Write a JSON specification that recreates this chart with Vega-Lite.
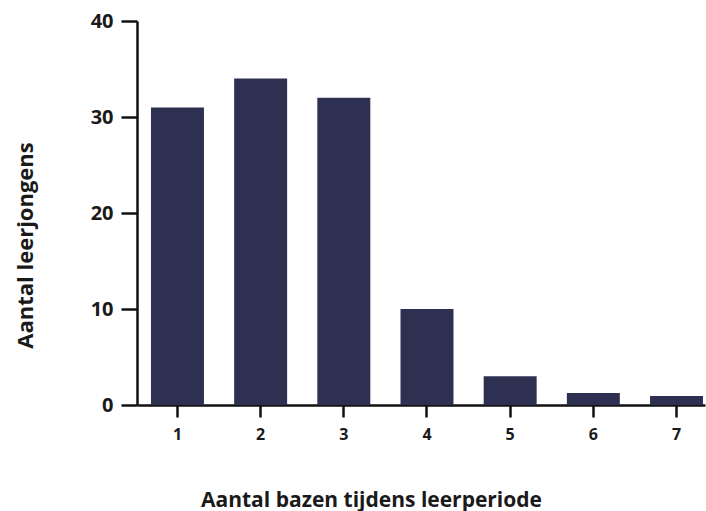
{
  "$schema": "https://vega.github.io/schema/vega-lite/v6.json",
  "autosize": "none",
  "width": 568,
  "height": 384,
  "padding": {"left": 137, "top": 21, "right": 1, "bottom": 106},
  "background": "white",
  "data": {"values": [
    {"bazen": "1", "leerjongens": 31},
    {"bazen": "2", "leerjongens": 34},
    {"bazen": "3", "leerjongens": 32},
    {"bazen": "4", "leerjongens": 10},
    {"bazen": "5", "leerjongens": 3},
    {"bazen": "6", "leerjongens": 1.25},
    {"bazen": "7", "leerjongens": 0.95}
  ]},
  "mark": {"type": "bar", "color": "#2d3050"},
  "encoding": {
    "x": {
      "field": "bazen", "type": "ordinal",
      "scale": {"paddingInner": 0.363, "paddingOuter": 0.096, "align": 0.875},
      "axis": {
        "title": "Aantal bazen tijdens leerperiode",
        "titleFont": "Open Sans", "titleFontSize": 21, "titleFontWeight": "bold", "titleColor": "#1a1a1a",
        "titleX": 234, "titleY": 101, "titleBaseline": "alphabetic", "titleAnchor": "middle",
        "labelAngle": 0, "labelFont": "Open Sans", "labelFontSize": 16, "labelFontWeight": "bold", "labelColor": "#1a1a1a",
        "labelPadding": 9,
        "domainColor": "#111111", "domainWidth": 2.5,
        "tickColor": "#111111", "tickWidth": 2.5, "tickSize": 12
      }
    },
    "y": {
      "field": "leerjongens", "type": "quantitative",
      "scale": {"domain": [0, 40], "nice": false},
      "axis": {
        "values": [0, 10, 20, 30, 40],
        "grid": false,
        "title": "Aantal leerjongens",
        "titleFont": "Open Sans", "titleFontSize": 22, "titleFontWeight": "bold", "titleColor": "#1a1a1a",
        "titleY": 224, "titleX": -105, "titleAnchor": "middle", "titleBaseline": "alphabetic",
        "labelFont": "Open Sans", "labelFontSize": 20, "labelFontWeight": "bold", "labelColor": "#1a1a1a",
        "labelPadding": 8,
        "domainColor": "#111111", "domainWidth": 2.5,
        "tickColor": "#111111", "tickWidth": 2.5, "tickSize": 16
      }
    }
  },
  "config": {"view": {"stroke": null}}
}
